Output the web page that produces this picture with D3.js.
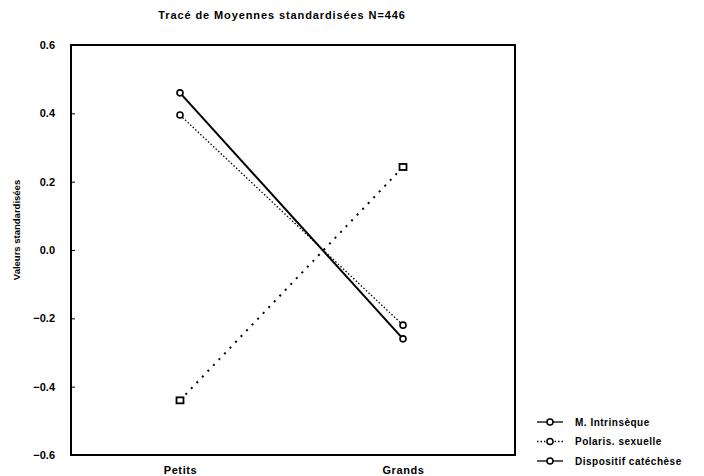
<!DOCTYPE html>
<html>
<head>
<meta charset="utf-8">
<script src="https://cdn.jsdelivr.net/npm/d3@7"></script>
<style>
  body { margin: 0; background: #fff; }
  text { font-family: Arial, "Liberation Sans", sans-serif; font-weight: bold; fill: #000; }
</style>
</head>
<body>
<div id="chart"></div>
<script>
var width = 704, height = 476;

// data
var groups = ["Petits", "Grands"];
var seriesNames = ["M. Intrinsèque", "Polaris. sexuelle", "Dispositif catéchèse"];
var intrinseque = [0.46, -0.26];
var polaris = [0.395, -0.22];
var dispositif = [-0.44, 0.243];
var yTicks = [-0.6, -0.4, -0.2, 0.0, 0.2, 0.4, 0.6];

var series = [
  { name: seriesNames[0], values: intrinseque, dash: null, width: 2, marker: "circle" },
  { name: seriesNames[1], values: polaris, dash: "1.5,2", width: 1.3, marker: "circle" },
  { name: seriesNames[2], values: dispositif, dash: "2,6", width: 2, marker: "square" }
];

var svg = d3.select("#chart").append("svg")
    .attr("width", width)
    .attr("height", height);

var plotLeft = 71, plotRight = 515, plotTop = 45, plotBottom = 455;

var yScale = d3.scaleLinear().domain([-0.6, 0.6]).range([plotBottom, plotTop]);
var xScale = d3.scalePoint().domain(groups).range([180, 403]);

// title
svg.append("text")
    .attr("x", 282).attr("y", 19)
    .attr("text-anchor", "middle")
    .style("font-size", "11px")
    .style("letter-spacing", "0.9px")
    .text("Tracé de Moyennes standardisées N=446");

// y axis
var yAxis = svg.append("g")
    .attr("transform", "translate(" + plotLeft + ",0)")
    .call(d3.axisLeft(yScale).tickValues(yTicks).tickSizeInner(-4).tickSizeOuter(0).tickPadding(16)
      .tickFormat(d3.format(".1f")));
yAxis.select(".domain").remove();
yAxis.selectAll("line").attr("stroke", "#000");
yAxis.selectAll("text").style("font-size", "11px").style("font-family", "Arial, sans-serif").style("font-weight", "bold");

// x labels
var xAxis = svg.append("g")
    .attr("transform", "translate(0," + plotBottom + ")")
    .call(d3.axisBottom(xScale).tickSize(0).tickPadding(11));
xAxis.select(".domain").remove();
xAxis.selectAll("text").style("font-size", "11px").style("letter-spacing", "0.6px")
    .style("font-family", "Arial, sans-serif").style("font-weight", "bold");

// frame
svg.append("rect")
    .attr("x", plotLeft).attr("y", plotTop)
    .attr("width", plotRight - plotLeft).attr("height", plotBottom - plotTop)
    .attr("fill", "none").attr("stroke", "#000").attr("stroke-width", 2);

// y label
svg.append("text")
    .attr("transform", "translate(20,230) rotate(-90)")
    .attr("text-anchor", "middle")
    .style("font-size", "9.5px")
    .text("Valeurs standardisées");

var line = d3.line()
    .x(function(d, i) { return xScale(groups[i]); })
    .y(function(d) { return yScale(d); });

series.forEach(function(s) {
  svg.append("path")
      .attr("d", line(s.values))
      .attr("fill", "none")
      .attr("stroke", "#000")
      .attr("stroke-width", s.width)
      .attr("stroke-dasharray", s.dash);

  s.values.forEach(function(v, i) {
    var cx = xScale(groups[i]), cy = yScale(v);
    if (s.marker == "circle") {
      svg.append("circle")
          .attr("cx", cx).attr("cy", cy).attr("r", 3)
          .attr("fill", "#fff").attr("stroke", "#000").attr("stroke-width", 1.6);
    } else {
      svg.append("rect")
          .attr("x", cx - 3.5).attr("y", cy - 3).attr("width", 7).attr("height", 6)
          .attr("fill", "#fff").attr("stroke", "#000").attr("stroke-width", 1.8);
    }
  });
});

// legend
var legend = svg.append("g").attr("transform", "translate(537,422)");
series.forEach(function(s, i) {
  var g = legend.append("g").attr("transform", "translate(0," + (i * 19.5) + ")");
  g.append("line")
      .attr("x1", 0).attr("x2", 26).attr("y1", 0).attr("y2", 0)
      .attr("stroke", "#000").attr("stroke-width", 1.3)
      .attr("stroke-dasharray", i == 1 ? "1.5,2" : null);
  g.append("circle")
      .attr("cx", 13).attr("cy", 0).attr("r", 3)
      .attr("fill", "#fff").attr("stroke", "#000").attr("stroke-width", 1.5);
  g.append("text")
      .attr("x", 38).attr("y", 3.5)
      .style("font-size", "10px")
      .style("letter-spacing", "0.5px")
      .text(s.name);
});
</script>
</body>
</html>
